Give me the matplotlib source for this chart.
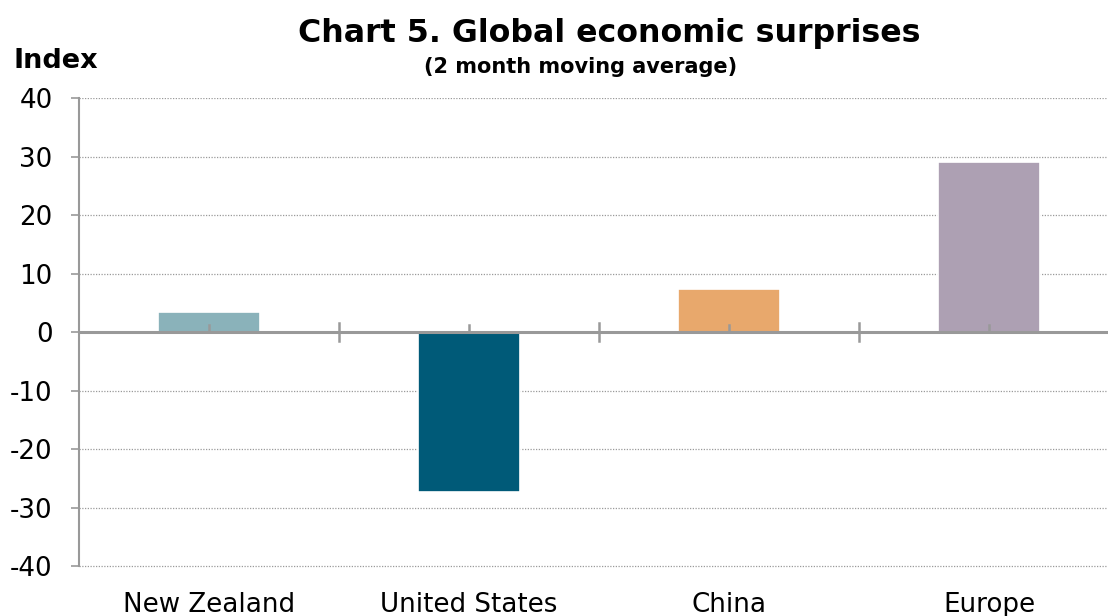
import matplotlib
matplotlib.use("Agg")
import matplotlib.pyplot as plt

categories = ["New Zealand", "United States", "China", "Europe"]
values = [3.5, -27.3, 7.4, 29.0]
colors = ["#8AB2BA", "#005A78", "#E8A86C", "#ADA0B3"]
yticks = [-40, -30, -20, -10, 0, 10, 20, 30, 40]

plt.rcParams['font.family'] = ['DejaVu Sans']

fig = plt.figure(figsize=(11.10, 6.16), dpi=100)
ax = fig.add_axes([79/1110, 1 - 568/616, (1108-79)/1110, (568-98)/616])

x = list(range(len(categories)))
ax.bar(x, values, width=0.39, color=colors, edgecolor="white", linewidth=1.2, zorder=3)

ax.set_xlim(-0.5, -0.5 + (1108-79)/260)
ax.set_ylim(-40.3, 40)
ax.set_yticks(yticks)
ax.set_yticklabels([str(v) for v in yticks], fontsize=18.8)
ax.yaxis.grid(True, linestyle=(0, (1, 1.2)), color="#9a9a9a", linewidth=0.9, zorder=0)
ax.set_axisbelow(True)

for s in ["top", "right", "bottom"]:
    ax.spines[s].set_visible(False)
ax.spines["left"].set_color("#999999")
ax.spines["left"].set_linewidth(1.5)
ax.spines["left"].set_bounds(-40, 40)
ax.tick_params(axis="y", length=6, color="#999999", width=1.2, pad=13)

# zero axis line
ax.axhline(0, color="#999999", linewidth=2.2, zorder=4)

# x ticks: category labels at bottom without tick marks
ax.set_xticks(x)
ax.set_xticklabels(categories, fontsize=18.8)
ax.tick_params(axis="x", length=0, pad=17)
# tick marks on zero line
for b in [0.5, 1.5, 2.5]:
    ax.plot([b, b], [-1.6, 1.6], color="#999999", linewidth=1.8, zorder=5, clip_on=False)
for c in x:
    ax.plot([c, c], [0, 1.2], color="#999999", linewidth=1.8, zorder=5)

fig.text(609/1110, 1 - 42/616, "Chart 5. Global economic surprises", ha="center", va="baseline",
         fontsize=22.8, fontweight="bold")
fig.text(581/1110, 1 - 73/616, "(2 month moving average)", ha="center", va="baseline",
         fontsize=15, fontweight="bold")
fig.text(14/1110, 1 - 68/616, "Index", ha="left", va="baseline", fontsize=19.5, fontweight="bold")

fig.savefig("out.png", dpi=100)
